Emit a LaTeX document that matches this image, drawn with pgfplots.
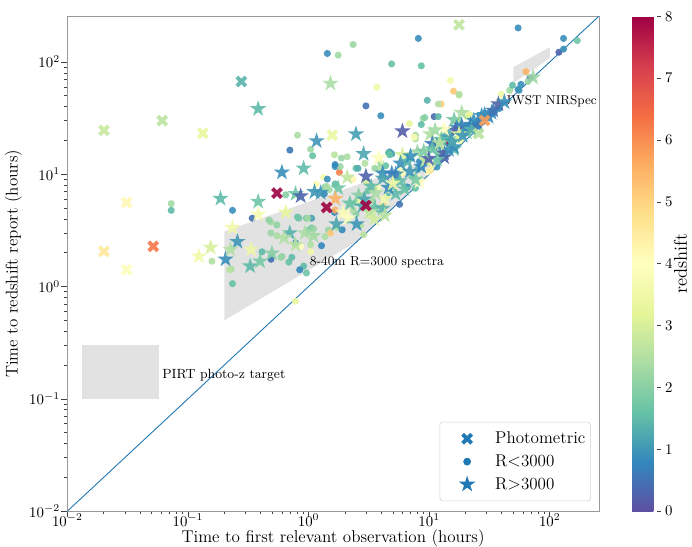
\documentclass[border=0pt]{standalone}
\usepackage{pgfplots}
\pgfplotsset{compat=1.18}
\usepackage{pgfplotstable}

\definecolor{tabblue}{HTML}{1F77B4}
\definecolor{shade}{HTML}{E2E2E2}

% filled five-pointed star, like matplotlib's '*'
\pgfdeclareplotmark{fstar}{%
  \pgfpathmoveto{\pgfpointpolar{90}{\pgfplotmarksize}}%
  \pgfpathlineto{\pgfpointpolar{126}{0.382\pgfplotmarksize}}%
  \pgfpathlineto{\pgfpointpolar{162}{\pgfplotmarksize}}%
  \pgfpathlineto{\pgfpointpolar{198}{0.382\pgfplotmarksize}}%
  \pgfpathlineto{\pgfpointpolar{234}{\pgfplotmarksize}}%
  \pgfpathlineto{\pgfpointpolar{270}{0.382\pgfplotmarksize}}%
  \pgfpathlineto{\pgfpointpolar{306}{\pgfplotmarksize}}%
  \pgfpathlineto{\pgfpointpolar{342}{0.382\pgfplotmarksize}}%
  \pgfpathlineto{\pgfpointpolar{18}{\pgfplotmarksize}}%
  \pgfpathlineto{\pgfpointpolar{54}{0.382\pgfplotmarksize}}%
  \pgfpathclose
  \pgfusepathqfill}

% x = time to first observation, y = time to report, z = redshift
\pgfplotstableread{
x y z
0.277 67 1.4
0.0201 24.6 2.8
0.0612 30 2.6
0.133 23.2 3.3
0.031 5.6 4.2
0.0201 2.06 4.6
0.0516 2.28 6.3
0.031 1.41 3.9
0.547 6.8 8
1.57 22.3 3.4
1.41 5.06 8
2.99 5.27 8
17.7 214 2.7
25.6 23 2.6
28.8 30.1 5.8
}\photo

\pgfplotstableread{
x y z
0.382 38.2 1.5
1.52 64.4 2.4
0.186 6.07 1.5
0.382 5.71 1.7
0.601 10.4 0.9
0.91 11.3 1.5
1.165 19.8 1.0
0.78 6.7 1.7
0.86 6.4 0.3
1.12 6.97 1.0
1.76 7.55 1.7
2.09 9.4 2.7
0.382 4.39 3.7
0.648 4.58 3.3
0.234 3.33 3.5
0.257 2.51 1.0
0.154 2.23 3.0
0.123 1.86 3.5
0.205 1.75 0.9
0.225 2.14 2.5
0.334 2.14 3.4
0.328 1.52 1.5
0.396 1.68 1.8
0.497 1.98 2.0
0.699 3.0 1.4
0.93 3.0 2.4
1.1 2.83 2.3
0.78 2.36 2.6
0.624 2.72 2.5
1.26 6.83 1.0
1.67 6.06 5.5
1.70 3.6 1.2
1.93 4.58 3.8
2.13 4.07 4.0
2.47 22.8 1.1
2.86 15.2 1.2
6.0 24.2 0.2
3.82 14.0 3.9
6.0 14.9 3.0
2.99 9.6 0.3
4.12 10.2 0.8
5.27 10.0 0.7
3.54 5.06 1.6
4.12 4.96 1.4
4.29 4.3 2.6
5.27 6.70 1.5
6.25 7.4 1.6
8.29 8.6 4.0
4.29 6.06 3.6
16.1 30.5 1.8
18.0 26.1 2.2
20.5 23.7 1.6
10.2 22.8 2.5
17.0 26.1 0.9
14.1 21.4 0.9
14.6 22.8 1.3
11.6 18.3 0.9
10.6 18.7 0.6
16.1 16.8 1.5
13.3 14.2 0.3
23.4 30.1 0.9
28.8 33.9 0.8
32.9 35.3 0.9
5.79 12.5 0.9
8.6 11.7 0.8
6.9 10.6 1.0
4.9 10.2 0.7
4.12 9.2 1.2
5.7 8.7 1.5
7.7 9.0 1.8
37.5 42.2 0.3
31.1 32.5 0.8
25.2 28.9 0.9
21.6 26.1 0.9
18.6 27.2 0.7
16.5 24.7 0.3
13.0 20.0 1.1
13.3 25.2 4.0
11.2 24.7 2.3
17.7 22.8 3.2
10.6 16.8 1.6
13.3 15.4 0.3
72.6 73 2.2
27.2 33.2 0.9
22.1 27.7 0.8
6.61 13.0 1.4
7.98 15.8 2.2
9.3 13.3 2.8
7.0 14.5 0.9
11.6 13.5 1.6
9.9 13.8 0.3
14.6 16.5 0.9
16.1 17.5 0.9
12.6 20.3 1.5
18.6 35.3 2.4
3.3 7.8 1.5
3.6 6.8 2.4
4.6 7.6 0.9
2.6 6.5 2.0
5.0 8.3 3.5
2.8 5.2 1.3
3.2 4.6 2.7
9.0 16.0 1.9
12.2 19.0 2.6
15.5 19.5 1.2
19.0 22.0 1.0
22.5 25.0 1.4
25.5 27.0 0.6
34.0 37.0 0.5
42.0 44.0 0.9
2.2 5.5 1.6
2.9 6.0 1.2
3.5 4.0 2.9
2.5 3.6 1.0
}\highres

\pgfplotstableread{
x y z
1.43 119 0.9
1.76 115 2.3
2.34 143 2.2
4.88 96 1.6
3.68 59.5 3.5
2.99 40.6 0.5
3.97 33.2 0.9
6.86 28.3 3.3
0.81 22.3 2.4
0.70 16.4 0.6
1.04 16.7 2.3
1.08 14.6 1.6
1.64 14.9 2.6
1.87 13.9 2.2
2.09 14.3 2.4
4.7 15.8 1.0
4.9 15.2 1.1
0.0726 5.48 2.3
0.0726 4.77 1.5
0.234 4.77 0.9
0.341 4.06 0.5
0.647 6.56 2.0
1.35 6.7 0.8
1.8 10.4 6.2
1.66 11.7 0.9
1.33 9.41 3.8
1.43 9.05 0.9
0.488 3.75 2.3
0.547 3.53 2.1
1.06 4.06 1.2
0.158 1.68 2.5
0.228 1.43 2.4
0.234 1.06 1.6
0.78 0.74 3.4
0.91 1.52 1.5
0.96 1.32 1.7
0.844 1.41 0.8
0.488 3.0 2.2
0.547 2.83 2.4
0.411 2.04 1.5
0.488 1.82 1.6
0.601 1.85 2.0
0.686 1.65 1.6
0.727 1.82 1.5
0.78 2.45 0.9
0.86 2.27 4.0
1.04 2.36 2.5
1.04 2.04 3.5
0.96 4.06 1.6
1.06 3.33 1.8
1.1 3.26 2.2
1.28 2.31 0.8
1.37 2.79 2.4
1.46 3.19 2.2
1.52 3.0 5.2
0.81 4.16 1.6
0.98 4.06 2.3
1.64 4.58 0.8
1.73 3.33 2.4
0.47 3.9 2.1
0.221 1.41 2.6
0.488 1.75 0.5
0.588 1.82 2.2
1.49 7.25 2.3
1.37 7.7 2.0
0.83 4.06 1.7
1.0 3.19 2.0
2.86 2.9 2.6
5.68 5.4 0.5
7.7 7.5 1.6
11.6 11.6 1.0
2.47 5.6 1.6
2.47 4.39 2.0
9.64 45.5 1.4
12.6 42.2 5.0
11.9 42.2 2.5
17.7 50.6 2.7
11.0 32.6 0.4
11.9 32.6 1.5
8.9 31.4 2.3
8.6 27.7 1.5
9.2 32.0 2.0
7.7 20.6 2.5
4.6 15.5 1.5
4.7 14.9 1.6
14.6 18.7 8.0
12.4 17.4 4.3
20.5 32.6 3.3
9.64 10.5 4.0
3.9 11.3 2.5
10.2 10.8 4.5
54.6 201 0.9
8.13 162 0.9
130 162 0.9
169 155 1.7
119 122 0.3
130 130 0.9
8.6 92.3 1.6
15.0 68.6 3.6
15.9 54.9 5.2
17.7 51.6 2.5
63.5 82 5.5
68.6 72 0.3
66 67 2.2
57.7 63.1 0.9
54.6 56.9 0.9
55.7 56 1.0
46.5 55.9 2.3
49.1 62 1.5
39.7 51.6 3.5
38.2 44.9 3.8
38.2 38.5 0.9
34.7 35.5 1.0
21.6 33.9 3.2
23.4 24.5 2.5
21.8 24.3 2.8
7.7 22.3 2.4
17.7 30.1 2.6
8.3 13.0 0.8
9.3 13.0 1.0
7.5 21.4 3.8
1.83 11.7 2.2
1.66 12.2 0.8
1.16 8.2 3.8
1.41 7.8 2.4
1.66 8.2 1.5
2.34 9.0 4.2
2.47 11.3 1.6
2.57 11.3 1.3
2.93 12.5 2.5
3.54 11.3 2.2
3.97 12.5 2.3
4.36 11.9 1.6
5.8 11.3 3.9
10.6 12.2 4.3
3.1 7.1 1.7
3.4 5.8 2.3
3.75 7.7 3.8
4.5 6.4 1.5
4.9 7.7 2.0
6.6 7.7 0.9
2.57 5.8 3.5
2.34 4.8 2.4
2.13 3.9 1.7
1.9 3.2 0.8
2.7 3.5 2.5
3.2 4.4 3.6
4.1 5.3 5.0
1.66 4.8 5.6
15.0 20.0 2.3
19.5 25.0 3.0
12.0 15.5 2.0
16.8 20.5 1.6
3.0 8.5 3.0
5.2 9.0 2.6
6.0 10.2 3.7
7.2 9.5 2.0
8.0 11.0 1.3
13.5 16.0 2.9
18.0 20.0 3.5
24.0 26.0 4.0
}\lowres

\begin{document}
\begin{tikzpicture}
\begin{axis}[
    scale only axis,
    width=358.7pt, height=334pt,
    xmode=log, ymode=log,
    xmin=0.01, xmax=255, ymin=0.01, ymax=255,
    xtick={0.01,0.1,1,10,100},
    ytick={0.01,0.1,1,10,100},
    axis line style={gray!80},
    tick align=outside, tick pos=left,
    major tick length=4pt, minor tick length=2.2pt,
    every tick/.style={black!75},
    xticklabel style={yshift=5.5pt},
    yticklabel style={xshift=2.5pt},
    label style={font=\fontsize{11.5}{14}\selectfont},
    xlabel={Time to first relevant observation (hours)},
    ylabel={Time to redshift report (hours)},
    xlabel style={inner sep=0pt, yshift=1.3pt},
    ylabel shift=-2pt,
    colormap={spectralr}{rgb255=(94,79,162) rgb255=(50,136,189) rgb255=(102,194,165) rgb255=(171,221,164) rgb255=(230,245,152) rgb255=(255,255,191) rgb255=(254,224,139) rgb255=(253,174,97) rgb255=(244,109,67) rgb255=(213,62,79) rgb255=(158,1,66)},
    point meta min=0, point meta max=8,
    scatter/use mapped color={draw=mapped color, fill=mapped color},
    colorbar,
    colorbar style={
        scale only axis,
        width=16.7pt,
        at={(parent axis.north east)}, anchor=north west, xshift=14pt,
        ytick={0,1,...,8},
        yticklabel pos=right,
        ytick pos=right,
        tick align=outside,
        major tick length=2.5pt,
        every tick/.style={black!75},
        yticklabel style={inner xsep=2.8pt},
        axis line style={draw=none},
        ylabel={redshift},
        ylabel style={at={(axis description cs:1.95,0.5)}, anchor=center,
            font=\fontsize{12.5}{15}\selectfont},
    },
    legend image code/.code={
        \path (0cm,0cm) (1.1cm,0cm);
        \draw[#1] plot coordinates {(0.55cm,0cm)};
    },
    legend style={
        at={(0.985,0.02)}, anchor=south east,
        draw=gray!35, rounded corners=2pt,
        font=\fontsize{11.5}{14}\selectfont,
        row sep=2pt, inner xsep=1.5pt, inner ysep=4.5pt,
    },
    legend cell align=left,
]
\addlegendimage{only marks, mark=x, mark size=4.3pt, line width=2.6pt, tabblue}
\addlegendentry{Photometric}
\addlegendimage{only marks, mark=*, mark size=2.4pt, tabblue}
\addlegendentry{R$<$3000}
\addlegendimage{only marks, mark=fstar, mark size=5.8pt, tabblue}
\addlegendentry{R$>$3000}

% shaded target regions
\addplot[fill=shade, draw=none, forget plot] coordinates {
    (0.0133,0.1) (0.057,0.1) (0.057,0.3) (0.0133,0.3)} -- cycle;
\addplot[fill=shade, draw=none, forget plot] coordinates {
    (0.2,0.5) (0.2,3.1) (10,13.5) (10,10) (2.5,2.5)} -- cycle;
\addplot[fill=shade, draw=none, forget plot] coordinates {
    (50,65) (50,90) (100,135) (100,108)} -- cycle;

% one-to-one line
\addplot[tabblue, line width=0.6pt, forget plot] coordinates {(0.01,0.01) (255,255)};

\addplot[scatter, only marks, mark=*, mark size=2.4pt, point meta=explicit,
    fill opacity=0.9, draw opacity=0, forget plot]
    table[x=x, y=y, meta=z] {\lowres};
\addplot[scatter, only marks, mark=fstar, mark size=5.8pt, point meta=explicit,
    fill opacity=0.9, forget plot]
    table[x=x, y=y, meta=z] {\highres};
\addplot[scatter, only marks, mark=x, mark size=4.3pt, line width=2.6pt, point meta=explicit,
    draw opacity=0.9, forget plot]
    table[x=x, y=y, meta=z] {\photo};

\node[anchor=west, inner sep=0pt, font=\fontsize{8.8}{11}\selectfont] at (axis cs:1.02,1.66) {8-40m R=3000 spectra};
\node[anchor=west, inner sep=0pt, font=\fontsize{8.6}{11}\selectfont] at (axis cs:42,45) {JWST NIRSpec};
\node[anchor=west, inner sep=0pt, font=\fontsize{9}{11}\selectfont] at (axis cs:0.061,0.161) {PIRT photo-z target};
\end{axis}
\path ([yshift=11pt]current axis.north west);
\end{tikzpicture}
\end{document}
